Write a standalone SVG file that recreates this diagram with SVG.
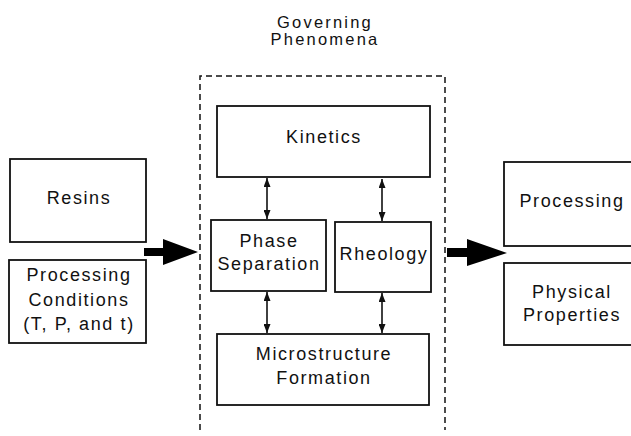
<svg xmlns="http://www.w3.org/2000/svg" width="631" height="436" viewBox="0 0 631 436">
  <style>
    .box { fill: #fff; stroke: #111; stroke-width: 1.8; }
    .lbl { font-family: "Liberation Sans", Arial, Helvetica, sans-serif; font-size: 18px; letter-spacing: 1.6px; fill: #111; text-anchor: middle; }
    .title { font-size: 16.5px; letter-spacing: 2.2px; }
    .frame { fill: none; stroke: #111; stroke-width: 1.5; stroke-dasharray: 6 4; }
    .link { fill: none; stroke: #111; stroke-width: 1.6; marker-start: url(#tip); marker-end: url(#tip); }
    .flow { fill: #000; }
  </style>
  <defs>
    <marker id="tip" viewBox="0 0 10 10" refX="10" refY="5" markerWidth="9" markerHeight="7" markerUnits="userSpaceOnUse" orient="auto-start-reverse" preserveAspectRatio="none">
      <path d="M0,0 L10,5 L0,10 Z" fill="#111"/>
    </marker>
  </defs>
  <rect width="631" height="436" fill="#fff"/>

  <!-- group heading and dashed enclosure -->
  <g id="governing">
    <text class="lbl title" x="325" y="28">Governing</text>
    <text class="lbl title" x="325" y="45">Phenomena</text>
    <path class="frame" d="M200,430 V76 H445 V430"/>
  </g>

  <!-- inputs -->
  <g id="resins">
    <rect class="box" x="10" y="159" width="136" height="83"/>
    <text class="lbl" x="79" y="204">Resins</text>
  </g>
  <g id="conditions">
    <rect class="box" x="9" y="260" width="137" height="83"/>
    <text class="lbl" x="79" y="281">Processing</text>
    <text class="lbl" x="79" y="306">Conditions</text>
    <text class="lbl" x="79" y="330">(T, P, and t)</text>
  </g>

  <!-- phenomena -->
  <g id="kinetics">
    <rect class="box" x="217" y="106" width="213" height="71"/>
    <text class="lbl" x="324" y="143">Kinetics</text>
  </g>
  <g id="phase">
    <rect class="box" x="211" y="220" width="115" height="71"/>
    <text class="lbl" x="269" y="247">Phase</text>
    <text class="lbl" x="269" y="270">Separation</text>
  </g>
  <g id="rheology">
    <rect class="box" x="335" y="222" width="96" height="70"/>
    <text class="lbl" x="384" y="260">Rheology</text>
  </g>
  <g id="microstructure">
    <rect class="box" x="217" y="334" width="212" height="71"/>
    <text class="lbl" x="324" y="360">Microstructure</text>
    <text class="lbl" x="324" y="384">Formation</text>
  </g>

  <!-- outputs -->
  <g id="processing">
    <rect class="box" x="504" y="162" width="140" height="84"/>
    <text class="lbl" x="572" y="207">Processing</text>
  </g>
  <g id="properties">
    <rect class="box" x="504" y="263" width="140" height="82"/>
    <text class="lbl" x="572" y="298">Physical</text>
    <text class="lbl" x="572" y="321">Properties</text>
  </g>

  <!-- connectors -->
  <g id="connectors">
    <line class="link" x1="267" y1="178" x2="267" y2="219"/>
    <line class="link" x1="382" y1="179" x2="382" y2="221"/>
    <line class="link" x1="267" y1="292" x2="267" y2="333"/>
    <line class="link" x1="382" y1="293" x2="382" y2="333"/>
    <polygon class="flow" points="144,248 163,248 163,239 198,252 163,265 163,256 144,256"/>
    <polygon class="flow" points="447,248 467,248 467,239 507,253 467,266 467,257 447,257"/>
  </g>
</svg>
